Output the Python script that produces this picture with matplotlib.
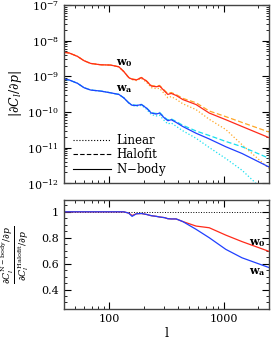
import numpy as np
import matplotlib
matplotlib.use("Agg")
import matplotlib.pyplot as plt
from matplotlib.ticker import LogLocator, MultipleLocator, NullFormatter, FixedLocator

# ---- data ----
ell = [40.2, 44.4, 52.5, 60.0, 68.6, 83.8, 102.4, 120.9, 133.7, 147.7, 157.9, 172.4, 190.5,
       210.6, 232.8, 257.3, 274.9, 303.8, 324.6, 347.5, 384.0, 438.3, 573.3, 748, 1045, 1448, 2488]

w0_nbody = [4.71e-9, 4.53e-9, 3.63e-9, 2.74e-9, 2.30e-9, 2.11e-9, 2.07e-9, 1.85e-9, 1.36e-9,
            9.2e-10, 8.28e-10, 7.91e-10, 9.19e-10, 7.39e-10, 5.33e-10, 5.09e-10, 5.33e-10,
            3.85e-10, 3.10e-10, 3.31e-10, 2.90e-10, 2.23e-10, 1.61e-10, 9.3e-11, 6.04e-11, 3.90e-11, 1.90e-11]
w0_linear = [4.71e-9, 4.53e-9, 3.63e-9, 2.74e-9, 2.30e-9, 2.11e-9, 2.07e-9, 1.85e-9, 1.36e-9,
             9.1e-10, 8.1e-10, 7.6e-10, 8.7e-10, 6.9e-10, 4.8e-10, 4.5e-10, 4.6e-10,
             3.2e-10, 2.5e-10, 2.7e-10, 2.26e-10, 1.7e-10, 1.16e-10, 6.2e-11, 3.2e-11, 1.2e-11, 2.6e-12]
w0_ratio = [1, 1, 1, 1, 1, 1, 1, 1, 1, 0.99, 0.972, 0.985, 0.987, 0.98, 0.97, 0.965, 0.96,
            0.955, 0.947, 0.945, 0.945, 0.925, 0.89, 0.877, 0.82, 0.77, 0.695]

wa_nbody = [8.28e-10, 7.91e-10, 6.37e-10, 4.78e-10, 4.11e-10, 3.85e-10, 3.44e-10, 3.10e-10, 2.48e-10,
            1.79e-10, 1.54e-10, 1.51e-10, 1.61e-10, 1.29e-10, 9.3e-11, 8.7e-11, 9.3e-11,
            6.7e-11, 5.66e-11, 6.04e-11, 5.07e-11, 3.90e-11, 2.52e-11, 1.74e-11, 1.05e-11, 6.8e-12, 2.85e-12]
wa_linear = [8.28e-10, 7.91e-10, 6.37e-10, 4.78e-10, 4.11e-10, 3.85e-10, 3.44e-10, 3.10e-10, 2.48e-10,
             1.77e-10, 1.51e-10, 1.45e-10, 1.53e-10, 1.2e-10, 8.4e-11, 7.7e-11, 8.1e-11,
             5.6e-11, 4.6e-11, 4.9e-11, 3.95e-11, 2.96e-11, 1.82e-11, 1.0e-11, 4.9e-12, 2.3e-12, 4.5e-13]
wa_ratio = [1, 1, 1, 1, 1, 1, 1, 1, 1, 0.99, 0.965, 0.985, 0.987, 0.98, 0.97, 0.965, 0.96,
            0.955, 0.947, 0.945, 0.945, 0.925, 0.865, 0.80, 0.71, 0.645, 0.57]

legend_labels = ["Linear", "Halofit", "N$-$body"]

RED = "#ff2a1a"
ORANGE = "#ffa726"
BLUE = "#2040ff"
CYAN = "#18e0f0"

plt.rcParams["font.family"] = ["DejaVu Serif"]
plt.rcParams["mathtext.fontset"] = "dejavuserif"
fs = 8

fig = plt.figure(figsize=(2.71, 3.41), dpi=100)
ax1 = fig.add_axes([0.236, 0.463, 0.757, 0.522])
ax2 = fig.add_axes([0.236, 0.094, 0.757, 0.319])

l = np.array(ell)
w0_halofit = np.array(w0_nbody) / np.array(w0_ratio)
wa_halofit = np.array(wa_nbody) / np.array(wa_ratio)

# top panel
ax1.plot(l, w0_linear, ls=":", color=ORANGE, lw=0.9)
ax1.plot(l, w0_halofit, ls="--", color=ORANGE, lw=0.9, dashes=(4, 2))
ax1.plot(l, w0_nbody, ls="-", color=RED, lw=0.9)
ax1.plot(l, wa_linear, ls=":", color=CYAN, lw=0.9)
ax1.plot(l, wa_halofit, ls="--", color=CYAN, lw=0.9, dashes=(4, 2))
ax1.plot(l, wa_nbody, ls="-", color=BLUE, lw=0.9)

ax1.set_xscale("log")
ax1.set_yscale("log")
ax1.set_xlim(40, 2500)
ax1.set_ylim(1e-12, 1e-7)
ax1.set_ylabel(r"$|\partial C_l/\partial p|$", fontsize=fs + 1, labelpad=2)

ax1.text(115, 2.1e-9, r"w$_{\mathbf{0}}$", fontsize=fs, fontweight="bold")
ax1.text(115, 3.9e-10, r"w$_{\mathbf{a}}$", fontsize=fs, fontweight="bold")

# legend handles
h1, = ax1.plot([], [], ls=":", color="black", lw=0.8)
h2, = ax1.plot([], [], ls="--", color="black", lw=0.8, dashes=(4, 2))
h3, = ax1.plot([], [], ls="-", color="black", lw=0.8)
ax1.legend([h1, h2, h3], legend_labels, loc="lower left", frameon=False,
           fontsize=fs + 0.5, handlelength=3.2, handletextpad=0.5,
           labelspacing=0.05, borderaxespad=0.0, bbox_to_anchor=(0.02, 0.0))

# bottom panel
ax2.axhline(1.0, ls=":", color="black", lw=0.7)
ax2.plot(l, w0_ratio, color=RED, lw=0.9)
ax2.plot(l, wa_ratio, color=BLUE, lw=0.9)
ax2.set_xscale("log")
ax2.set_xlim(40, 2500)
ax2.set_ylim(0.25, 1.09)
ax2.yaxis.set_major_locator(FixedLocator([0.4, 0.6, 0.8, 1.0]))
ax2.yaxis.set_minor_locator(MultipleLocator(0.05))
ax2.set_yticklabels(["0.4", "0.6", "0.8", "1"])
ax2.set_xticks([100, 1000])
ax2.set_xticklabels(["100", "1000"])
ax2.set_xlabel("l", fontsize=fs + 1, labelpad=2)
ax2.set_ylabel(r"$\frac{\partial C_l^{\rm N-body}/\partial p}{\partial C_l^{\rm Halofit}/\partial p}$",
               fontsize=fs + 1.5)
ax2.yaxis.set_label_coords(-0.16, 0.5)
ax2.text(1680, 0.745, r"w$_{\mathbf{0}}$", fontsize=fs, fontweight="bold")
ax2.text(1680, 0.52, r"w$_{\mathbf{a}}$", fontsize=fs, fontweight="bold")

for ax in (ax1, ax2):
    ax.tick_params(which="both", direction="in", top=True, right=True, labelsize=fs)
    ax.tick_params(which="major", length=5, width=0.8)
    ax.tick_params(which="minor", length=2.5, width=0.6)
    for s in ax.spines.values():
        s.set_linewidth(1.0)
        s.set_color("#444444")
ax1.xaxis.set_major_locator(LogLocator(base=10))
ax1.xaxis.set_minor_locator(LogLocator(base=10, subs=np.arange(2, 10)))
ax1.xaxis.set_major_formatter(NullFormatter())
ax1.xaxis.set_minor_formatter(NullFormatter())
ax1.yaxis.set_minor_locator(LogLocator(base=10, subs=np.arange(2, 10), numticks=20))
ax2.xaxis.set_minor_locator(LogLocator(base=10, subs=np.arange(2, 10)))
ax2.xaxis.set_minor_formatter(NullFormatter())

fig.savefig("out.png", dpi=100)
